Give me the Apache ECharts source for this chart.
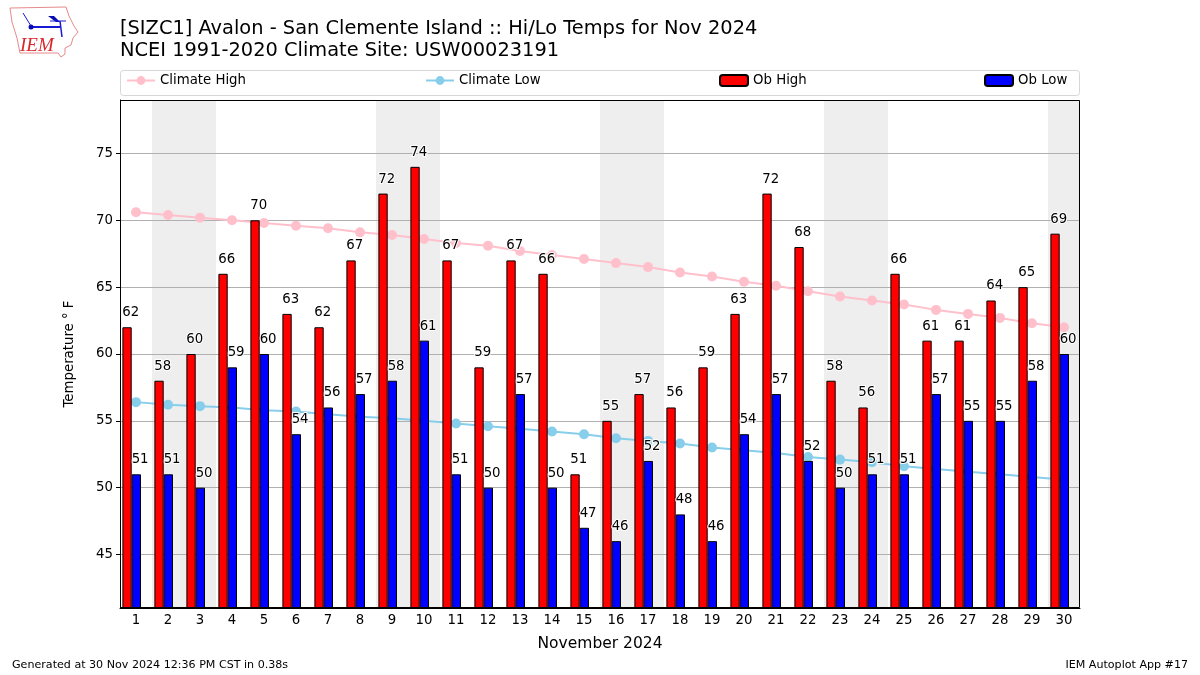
<!DOCTYPE html>
<html><head><meta charset="utf-8">
<style>html,body{margin:0;padding:0;background:#fff}#c{width:1200px;height:675px}</style>
<script src="https://cdn.jsdelivr.net/npm/echarts@6/dist/echarts.min.js"></script>
</head><body><div id="c"></div>
<script>
const days = ['1','2','3','4','5','6','7','8','9','10','11','12','13','14','15','16','17','18','19','20','21','22','23','24','25','26','27','28','29','30'];
const obHigh = [62,58,60,66,70,63,62,67,72,74,67,59,67,66,51,55,57,56,59,63,72,68,58,56,66,61,61,64,65,69];
const obLow = [51,51,50,59,60,54,56,57,58,61,51,50,57,50,47,46,52,48,46,54,57,52,50,51,51,57,55,55,58,60];
const climateHigh = [70.6,70.4,70.2,70.0,69.8,69.6,69.4,69.1,68.9,68.6,68.3,68.1,67.7,67.4,67.1,66.8,66.5,66.1,65.8,65.4,65.1,64.7,64.3,64.0,63.7,63.3,63.0,62.7,62.3,62.0];
const climateLow = [56.4,56.2,56.1,56.0,55.8,55.7,55.5,55.3,55.2,55.0,54.8,54.6,54.4,54.2,54.0,53.7,53.5,53.3,53.0,52.8,52.6,52.3,52.1,51.9,51.6,51.4,51.2,51.0,50.8,50.6];
const weekendDays = ['2','3','9','10','16','17','23','24','30'];
const yTicks = [45,50,55,60,65,70,75];
const FONT = '"DejaVu Sans"';

const chart = echarts.init(document.getElementById('c'), null, {renderer:'canvas'});
const barLabel = {show:true, position:'top', align:'left', offset:[-4.7,-3], color:'#000', fontFamily:FONT, fontSize:13.3,
  textBorderColor:'#fff', textBorderWidth:2};
const legendBase = {top:74, itemWidth:28, itemHeight:11, itemGap:9, textStyle:{fontFamily:FONT,fontSize:13.3,color:'#000'}, padding:0, selectedMode:false};

chart.setOption({
  animation:false,
  backgroundColor:'#fff',
  title:[
    {text:'[SIZC1] Avalon - San Clemente Island :: Hi/Lo Temps for Nov 2024\nNCEI 1991-2020 Climate Site: USW00023191', left:120, top:18, padding:0,
      textStyle:{fontFamily:FONT,fontSize:19.4,fontWeight:'normal',color:'#000',lineHeight:22}},
    {text:'Generated at 30 Nov 2024 12:36 PM CST in 0.38s', left:12, top:660, padding:0, textStyle:{fontFamily:FONT,fontSize:11.1,fontWeight:'normal',color:'#000'}},
    {text:'IEM Autoplot App #17', right:12, top:660, padding:0, textStyle:{fontFamily:FONT,fontSize:11.1,fontWeight:'normal',color:'#000'}}
  ],
  legend:[
    Object.assign({},legendBase,{left:126,data:['Climate High']}),
    Object.assign({},legendBase,{left:425,data:['Climate Low']}),
    Object.assign({},legendBase,{left:719,data:['Ob High']}),
    Object.assign({},legendBase,{left:984,data:['Ob Low']})
  ],
  grid:{left:120,right:120,top:100,bottom:67,containLabel:false},
  xAxis:{type:'category',data:days,boundaryGap:true,
    name:'November 2024',nameLocation:'middle',nameGap:28,nameTextStyle:{fontFamily:FONT,fontSize:15.5,color:'#000'},
    axisLine:{onZero:false,lineStyle:{color:'#000',width:1}},
    axisTick:{alignWithLabel:true,length:4,lineStyle:{color:'#000'}},
    axisLabel:{interval:0,color:'#000',fontFamily:FONT,fontSize:13.3,margin:6},
    splitLine:{show:false}},
  yAxis:{type:'value',min:41,max:79,
    name:'Temperature $^\\circ$F'.replace('$^\\circ$',"\u00b0 "),nameLocation:'middle',nameGap:44,nameRotate:90,nameTextStyle:{fontFamily:FONT,fontSize:13.3,color:'#000'},
    axisLine:{show:true,lineStyle:{color:'#000',width:1}},
    axisTick:{show:true,length:4,lineStyle:{color:'#000'},customValues:yTicks},
    axisLabel:{color:'#000',fontFamily:FONT,fontSize:13.3,margin:7,customValues:yTicks},
    splitLine:{show:true,lineStyle:{color:'#b0b0b0',width:1}}},
  graphic:[
    {type:'rect',z:100,shape:{x:120.5,y:70.5,width:959,height:25,r:3},style:{fill:'none',stroke:'#d6d6d6',lineWidth:1}},
    {type:'rect',z:100,shape:{x:120.5,y:100.5,width:959,height:507},style:{fill:'none',stroke:'#000',lineWidth:1}},
    {type:'group',z:100,children:[
      {type:'polyline',shape:{points:[[10,8],[66,7],[69,16],[74,26],[78,32],[73,38],[71,45],[65,48],[65,54],[61,57],[58,53],[20,53],[17,38],[12,22],[10,8]]},style:{fill:'none',stroke:'#e58a8a',lineWidth:1}},
      {type:'line',shape:{x1:30,y1:27,x2:60,y2:27},style:{stroke:'#1a1ad6',lineWidth:2}},
      {type:'circle',shape:{cx:31,cy:27,r:2.5},style:{fill:'#0a0ab0'}},
      {type:'line',shape:{x1:31,y1:26,x2:23,y2:13},style:{stroke:'#1a1ad6',lineWidth:1}},
      {type:'polygon',shape:{points:[[48,16],[54,16],[60,22],[56,22]]},style:{fill:'#0a0ab0'}},
      {type:'line',shape:{x1:50,y1:21,x2:66,y2:21},style:{stroke:'#1a1ad6',lineWidth:1}},
      {type:'line',shape:{x1:60,y1:21,x2:62,y2:37},style:{stroke:'#1a1ad6',lineWidth:1.5}},
      {type:'text',style:{x:20,y:36,text:'IEM',fill:'#d8262c',font:'italic 19px "Liberation Serif"'}}
    ]}
  ],
  series:[
    {type:'custom',name:'weekend',data:weekendDays.map(d=>[d]),encode:{x:0},z:-1,silent:true,clip:true,
      renderItem:function(params,api){
        const c=api.coord([api.value(0),41]); const w=api.size([1,0])[0];
        const top=api.coord([api.value(0),79])[1];
        return {type:'rect',shape:{x:c[0]-w/2,y:top,width:w,height:c[1]-top},style:{fill:'#eeeeee'}};
      }},
    {type:'bar',name:'Ob High',data:obHigh,barWidth:9.3,barGap:'0%',z:2,itemStyle:{color:'#ff0000',borderColor:'#000',borderWidth:1},label:barLabel},
    {type:'bar',name:'Ob Low',data:obLow,barWidth:9.3,barGap:'0%',z:2,itemStyle:{color:'#0000ff',borderColor:'#000',borderWidth:1},label:barLabel},
    {type:'bar',name:'',data:days.map(()=>null),barWidth:8.6,barGap:'0%',silent:true},
    {type:'line',name:'Climate High',data:climateHigh,z:1.5,symbol:'circle',symbolSize:10,showSymbol:true,lineStyle:{color:'#ffc0cb',width:2},itemStyle:{color:'#ffc0cb'}},
    {type:'line',name:'Climate Low',data:climateLow,z:1.5,symbol:'circle',symbolSize:10,showSymbol:true,lineStyle:{color:'#87ceeb',width:2},itemStyle:{color:'#87ceeb'}}
  ]
});
</script></body></html>
